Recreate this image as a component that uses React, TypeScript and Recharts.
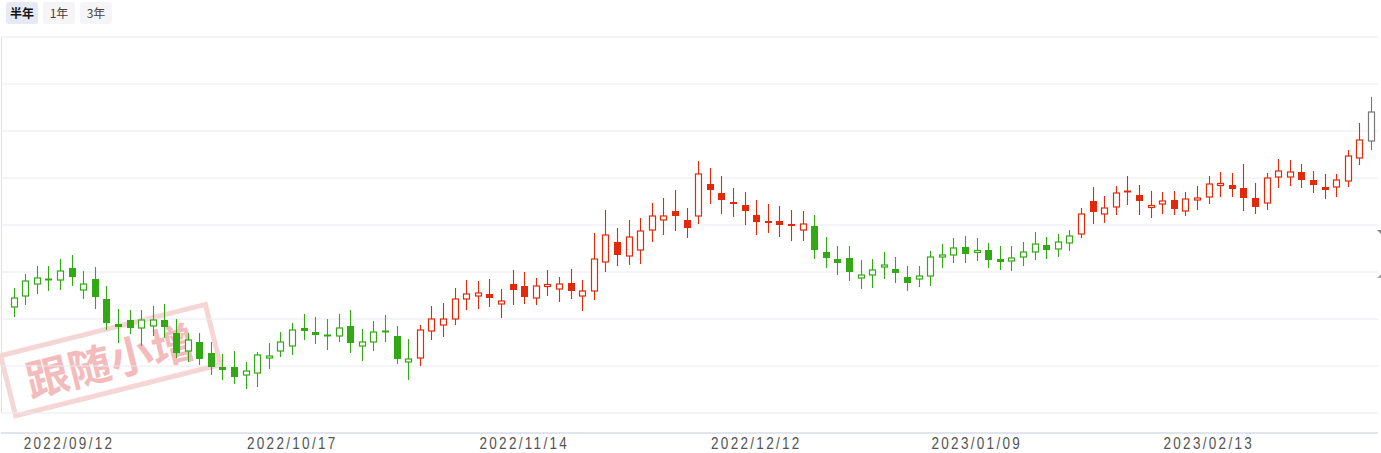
import { ComposedChart, Bar, XAxis, YAxis, CartesianGrid } from 'recharts';

const dates = [
  '2022/09/06', '2022/09/07', '2022/09/08', '2022/09/09', '2022/09/12', '2022/09/13', '2022/09/14', '2022/09/15', '2022/09/16', '2022/09/19',
  '2022/09/20', '2022/09/21', '2022/09/22', '2022/09/23', '2022/09/26', '2022/09/27', '2022/09/28', '2022/09/29', '2022/09/30', '2022/10/10',
  '2022/10/11', '2022/10/12', '2022/10/13', '2022/10/14', '2022/10/17', '2022/10/18', '2022/10/19', '2022/10/20', '2022/10/21', '2022/10/24',
  '2022/10/25', '2022/10/26', '2022/10/27', '2022/10/28', '2022/10/31', '2022/11/01', '2022/11/02', '2022/11/03', '2022/11/04', '2022/11/07',
  '2022/11/08', '2022/11/09', '2022/11/10', '2022/11/11', '2022/11/14', '2022/11/15', '2022/11/16', '2022/11/17', '2022/11/18', '2022/11/21',
  '2022/11/22', '2022/11/23', '2022/11/24', '2022/11/25', '2022/11/28', '2022/11/29', '2022/11/30', '2022/12/01', '2022/12/02', '2022/12/05',
  '2022/12/06', '2022/12/07', '2022/12/08', '2022/12/09', '2022/12/12', '2022/12/13', '2022/12/14', '2022/12/15', '2022/12/16', '2022/12/19',
  '2022/12/20', '2022/12/21', '2022/12/22', '2022/12/23', '2022/12/26', '2022/12/27', '2022/12/28', '2022/12/29', '2022/12/30', '2023/01/03',
  '2023/01/04', '2023/01/05', '2023/01/06', '2023/01/09', '2023/01/10', '2023/01/11', '2023/01/12', '2023/01/13', '2023/01/16', '2023/01/17',
  '2023/01/18', '2023/01/19', '2023/01/20', '2023/01/30', '2023/01/31', '2023/02/01', '2023/02/02', '2023/02/03', '2023/02/06', '2023/02/07',
  '2023/02/08', '2023/02/09', '2023/02/10', '2023/02/13', '2023/02/14', '2023/02/15', '2023/02/16', '2023/02/17', '2023/02/20', '2023/02/21',
  '2023/02/22', '2023/02/23', '2023/02/24', '2023/02/27', '2023/02/28', '2023/03/01', '2023/03/02', '2023/03/03',
];

const openValues = [
  1.106, 1.117, 1.129, 1.134, 1.133, 1.145, 1.123, 1.134, 1.114, 1.089,
  1.093, 1.085, 1.087, 1.093, 1.080, 1.062, 1.071, 1.060, 1.046, 1.046,
  1.038, 1.040, 1.055, 1.062, 1.067, 1.085, 1.081, 1.078, 1.077, 1.087,
  1.067, 1.071, 1.082, 1.077, 1.051, 1.055, 1.082, 1.088, 1.094, 1.114,
  1.117, 1.119, 1.109, 1.129, 1.127, 1.115, 1.127, 1.124, 1.130, 1.117,
  1.122, 1.151, 1.171, 1.157, 1.163, 1.183, 1.193, 1.202, 1.193, 1.197,
  1.229, 1.220, 1.211, 1.208, 1.198, 1.192, 1.192, 1.189, 1.183, 1.187,
  1.161, 1.154, 1.155, 1.135, 1.138, 1.146, 1.144, 1.136, 1.134, 1.137,
  1.156, 1.158, 1.166, 1.161, 1.163, 1.154, 1.152, 1.156, 1.161, 1.168,
  1.164, 1.170, 1.179, 1.212, 1.199, 1.206, 1.222, 1.218, 1.206, 1.209,
  1.213, 1.202, 1.213, 1.216, 1.228, 1.228, 1.225, 1.215, 1.210, 1.236,
  1.236, 1.241, 1.233, 1.226, 1.226, 1.232, 1.255, 1.272,
];

const highValues = [
  1.125, 1.139, 1.147, 1.147, 1.154, 1.158, 1.142, 1.146, 1.127, 1.104,
  1.103, 1.103, 1.107, 1.109, 1.094, 1.080, 1.080, 1.071, 1.059, 1.062,
  1.051, 1.061, 1.070, 1.081, 1.090, 1.099, 1.096, 1.094, 1.099, 1.103,
  1.084, 1.092, 1.098, 1.087, 1.074, 1.088, 1.107, 1.110, 1.125, 1.133,
  1.132, 1.134, 1.124, 1.143, 1.141, 1.135, 1.143, 1.136, 1.144, 1.133,
  1.180, 1.203, 1.185, 1.193, 1.195, 1.210, 1.215, 1.223, 1.205, 1.252,
  1.245, 1.237, 1.225, 1.221, 1.213, 1.209, 1.207, 1.203, 1.202, 1.198,
  1.176, 1.167, 1.167, 1.153, 1.154, 1.161, 1.156, 1.147, 1.147, 1.162,
  1.169, 1.175, 1.177, 1.175, 1.170, 1.167, 1.167, 1.171, 1.181, 1.176,
  1.179, 1.183, 1.205, 1.226, 1.217, 1.227, 1.237, 1.228, 1.222, 1.221,
  1.222, 1.221, 1.227, 1.237, 1.241, 1.240, 1.249, 1.230, 1.240, 1.254,
  1.253, 1.249, 1.242, 1.239, 1.239, 1.263, 1.290, 1.316,
];

const lowValues = [
  1.096, 1.108, 1.119, 1.122, 1.123, 1.127, 1.114, 1.104, 1.083, 1.070,
  1.079, 1.067, 1.077, 1.075, 1.055, 1.051, 1.048, 1.038, 1.033, 1.029,
  1.024, 1.026, 1.044, 1.056, 1.058, 1.073, 1.069, 1.063, 1.071, 1.060,
  1.052, 1.062, 1.071, 1.049, 1.033, 1.047, 1.073, 1.076, 1.088, 1.103,
  1.104, 1.106, 1.095, 1.108, 1.109, 1.108, 1.117, 1.111, 1.114, 1.102,
  1.113, 1.141, 1.147, 1.148, 1.149, 1.171, 1.178, 1.182, 1.175, 1.189,
  1.209, 1.199, 1.196, 1.188, 1.178, 1.180, 1.176, 1.172, 1.172, 1.154,
  1.145, 1.138, 1.132, 1.124, 1.125, 1.134, 1.130, 1.122, 1.126, 1.127,
  1.145, 1.150, 1.150, 1.152, 1.145, 1.143, 1.142, 1.147, 1.153, 1.154,
  1.156, 1.162, 1.175, 1.189, 1.190, 1.198, 1.208, 1.198, 1.195, 1.199,
  1.198, 1.197, 1.203, 1.209, 1.216, 1.216, 1.202, 1.199, 1.203, 1.225,
  1.227, 1.225, 1.220, 1.214, 1.216, 1.226, 1.248, 1.263,
];

const closeValues = [
  1.115, 1.132, 1.135, 1.133, 1.142, 1.136, 1.129, 1.116, 1.090, 1.086,
  1.085, 1.093, 1.093, 1.086, 1.060, 1.073, 1.054, 1.046, 1.043, 1.036,
  1.042, 1.058, 1.057, 1.071, 1.083, 1.082, 1.078, 1.077, 1.085, 1.070,
  1.071, 1.081, 1.081, 1.054, 1.054, 1.083, 1.094, 1.094, 1.114, 1.119,
  1.120, 1.115, 1.112, 1.123, 1.116, 1.127, 1.128, 1.129, 1.122, 1.122,
  1.154, 1.178, 1.158, 1.176, 1.182, 1.197, 1.197, 1.197, 1.185, 1.239,
  1.223, 1.213, 1.209, 1.202, 1.191, 1.190, 1.188, 1.187, 1.189, 1.163,
  1.155, 1.150, 1.141, 1.138, 1.143, 1.148, 1.140, 1.130, 1.137, 1.156,
  1.158, 1.165, 1.159, 1.162, 1.153, 1.151, 1.155, 1.161, 1.169, 1.163,
  1.171, 1.177, 1.199, 1.201, 1.205, 1.220, 1.221, 1.212, 1.207, 1.212,
  1.204, 1.214, 1.215, 1.229, 1.229, 1.224, 1.215, 1.206, 1.235, 1.242,
  1.241, 1.233, 1.228, 1.223, 1.233, 1.257, 1.273, 1.301,
];

// trend colouring starts at these dates
const trendSegments = [
  { from: '2022/09/06', trend: 'down' },
  { from: '2022/11/01', trend: 'up' },
  { from: '2022/12/19', trend: 'down' },
  { from: '2023/01/20', trend: 'up' },
  { from: '2023/03/03', trend: 'current' },
];

const axisLabels = ['2022/09/12', '2022/10/17', '2022/11/14', '2022/12/12', '2023/01/09', '2023/02/13'];
const gridValues = [1.0, 1.047, 1.094, 1.141, 1.188, 1.235, 1.282, 1.329, 1.376];
const rangeButtons = ['半年', '1年', '3年'];

const trendColors: Record<string, string> = {
  down: '#32a914',
  up: '#e02a0a',
  current: '#777777',
};

const trendOf = (date: string) => {
  let t = trendSegments[0].trend;
  for (const s of trendSegments) {
    if (date >= s.from) t = s.trend;
  }
  return t;
};

const data = dates.map((date, i) => ({
  date,
  open: openValues[i],
  high: highValues[i],
  low: lowValues[i],
  close: closeValues[i],
  range: [lowValues[i], highValues[i]],
  trend: trendOf(date),
}));

function Candle(props: any) {
  const { x, y, width, height, payload } = props;
  if (!payload) return <g />;
  const top = Math.min(y, y + height);
  const bottom = Math.max(y, y + height);
  const { open, close, high, low, trend } = payload;
  const span = high - low || 1;
  const toY = (v: number) => bottom - ((v - low) / span) * (bottom - top);
  const color = trendColors[trend];
  const cx = Math.round(x + width / 2) + 0.5;
  const rising = close >= open;
  let bodyTop = toY(Math.max(open, close));
  let bodyBottom = toY(Math.min(open, close));
  if (bodyBottom - bodyTop < 2) {
    const mid = (bodyTop + bodyBottom) / 2;
    bodyTop = mid - 1;
    bodyBottom = mid + 1;
  }
  if (rising) {
    return (
      <g>
        <line x1={cx} x2={cx} y1={top} y2={bodyTop} stroke={color} strokeWidth={1.1} />
        <line x1={cx} x2={cx} y1={bodyBottom} y2={bottom} stroke={color} strokeWidth={1.1} />
        <rect x={cx - 3} y={bodyTop} width={6} height={bodyBottom - bodyTop} fill="#fff" stroke={color} strokeWidth={1.2} />
      </g>
    );
  }
  return (
    <g>
      <line x1={cx} x2={cx} y1={top} y2={bottom} stroke={color} strokeWidth={1.1} />
      <rect x={cx - 3.5} y={bodyTop} width={7} height={bodyBottom - bodyTop} fill={color} />
    </g>
  );
}

function DateTick(props: any) {
  const { x, y, payload } = props;
  if (!axisLabels.includes(payload.value)) return <g />;
  // keep the first label clear of the left edge
  const tx = Math.max(x, 69);
  return (
    <text
      transform={`translate(${tx} ${y + 8}) scale(0.82 1)`}
      x={0}
      y={0}
      textAnchor="middle"
      fill="#555"
      fontSize={16.5}
      letterSpacing={2.8}
      fontFamily="'Liberation Sans', Arial, sans-serif"
    >
      {payload.value}
    </text>
  );
}

export default function App() {
  return (
    <div style={{ position: 'absolute', left: 0, top: 0, width: 1381, height: 453, background: '#fff', overflow: 'hidden' }}>
      <div style={{ position: 'absolute', left: 6, top: 2, display: 'flex', gap: 5 }}>
        {rangeButtons.map((label, i) => (
          <div
            key={label}
            style={{
              width: 32,
              height: 22,
              lineHeight: '22px',
              textAlign: 'center',
              borderRadius: 3,
              fontSize: 12,
              fontFamily: "'Noto Sans CJK SC', sans-serif",
              fontWeight: i === 0 ? 700 : 400,
              color: i === 0 ? '#111' : '#4a4040',
              background: i === 0 ? '#e6eaf5' : '#f5f5f7',
            }}
          >
            {label}
          </div>
        ))}
      </div>

      <svg width={1381} height={453} style={{ position: 'absolute', left: 0, top: 0 }}>
        <g transform="rotate(-14 111 360)" opacity={0.75}>
          <rect x={5} y={329} width={211} height={62} fill="none" stroke="#f4c8c8" strokeWidth={5} />
          <text
            x={110}
            y={377}
            textAnchor="middle"
            fontSize={43}
            fontWeight={700}
            fill="#efa5a5"
            fontFamily="'Noto Sans CJK SC', sans-serif"
          >
            跟随小增
          </text>
        </g>
        <rect x={1} y={37} width={1} height={376} fill="#d5e0f4" />
        <polygon points="1377,230 1381,230 1381,234" fill="#888" />
        <polygon points="1381,274 1381,278 1377,278" fill="#aaa" />
      </svg>

      <div style={{ position: 'absolute', left: 0, top: 0 }}>
        <ComposedChart width={1381} height={453} data={data} margin={{ top: 37, right: 3, left: 1, bottom: 0 }}>
          <CartesianGrid vertical={false} stroke="#e7eaf0" />
          <XAxis
            dataKey="date"
            type="category"
            interval={0}
            height={20}
            tickLine={false}
            axisLine={{ stroke: '#cdd5e4' }}
            padding={{ left: 7, right: 1 }}
            tick={<DateTick />}
          />
          <YAxis hide domain={[0.98, 1.376]} ticks={gridValues} allowDataOverflow />
          <Bar dataKey="range" shape={<Candle />} isAnimationActive={false} />
        </ComposedChart>
      </div>
    </div>
  );
}
